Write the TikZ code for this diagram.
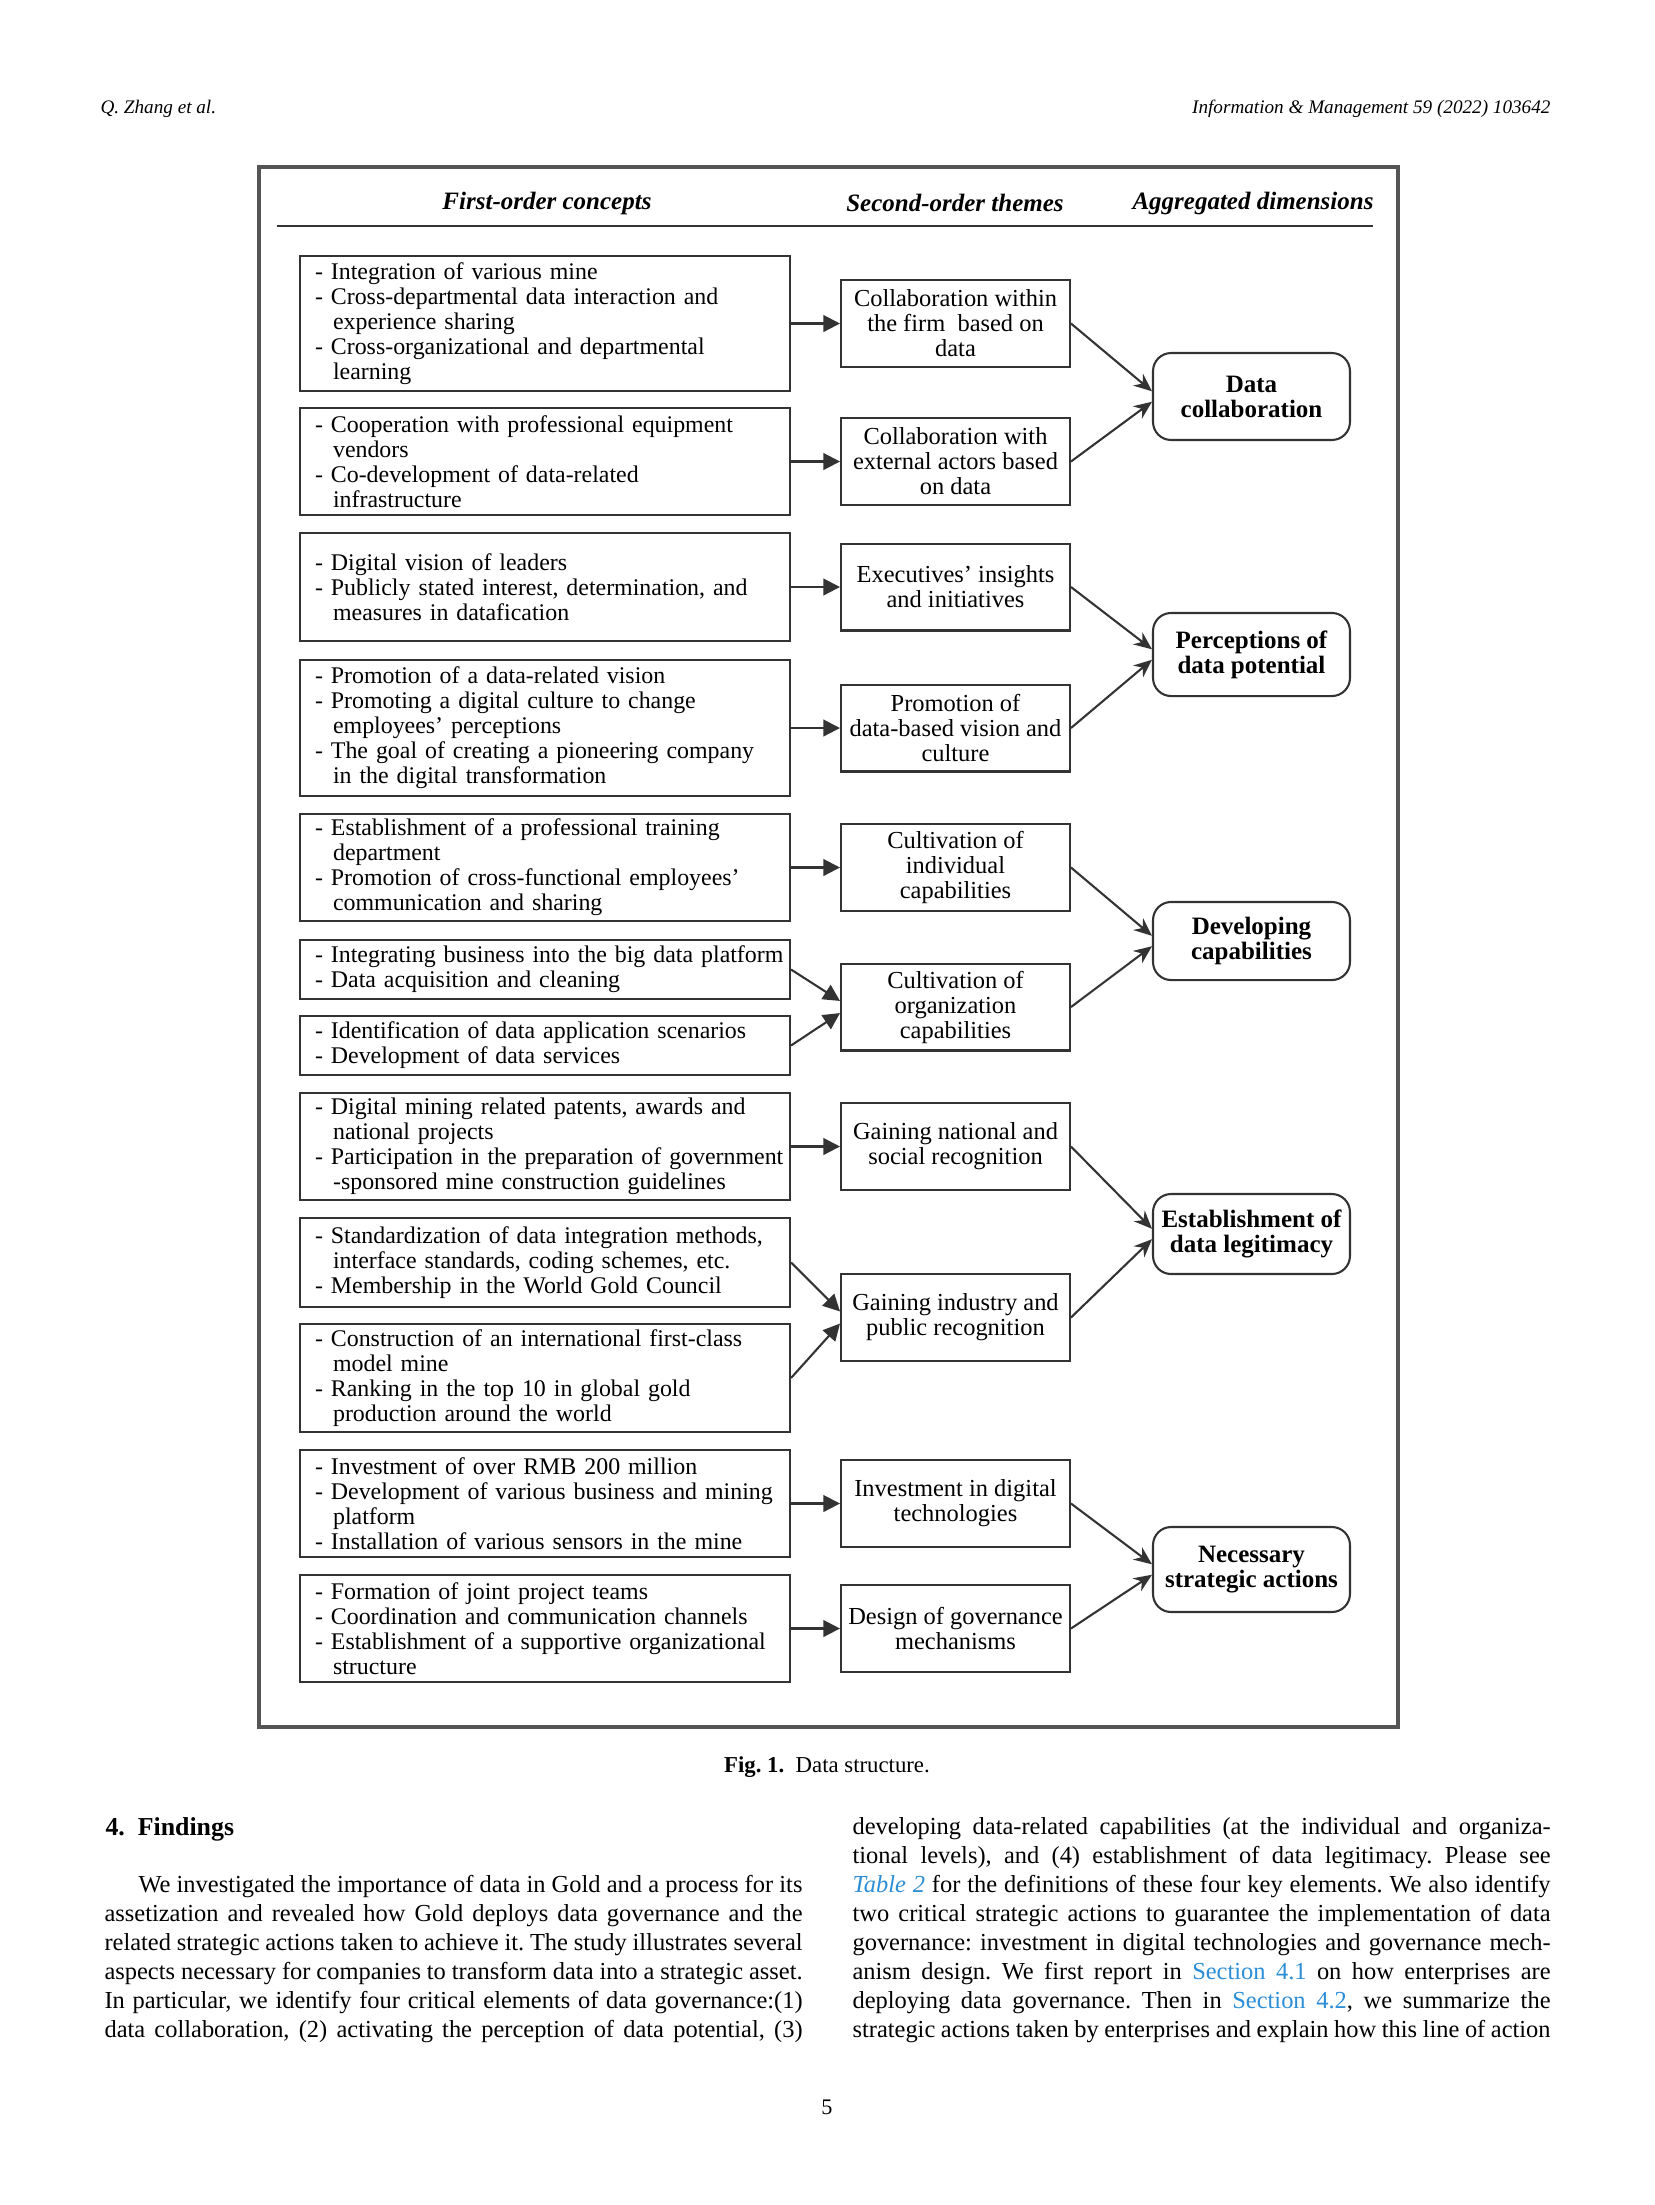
\documentclass[tikz,border=0pt]{standalone}
\usepackage{fontspec}
\setmainfont{Liberation Serif}
\usepackage{xcolor}
\definecolor{LineGray}{HTML}{333333}
\definecolor{FrameGray}{HTML}{555555}
\definecolor{LinkBlue}{HTML}{2C8ED6}
\usepackage{tikz}
\usetikzlibrary{arrows.meta}
\frenchspacing
\newcommand\itm[1]{\mbox{- #1}}
\newcommand\cnt[1]{\mbox{\hspace*{6.5pt}#1}}
\newcommand\jline[2][251.3pt]{\makebox[#1][s]{#2}}

\begin{document}
\begin{tikzpicture}[
  x=0.36pt, y=-0.36pt,
  concept/.style={draw=LineGray, line width=0.75pt, text width=165.6pt, inner xsep=5.4pt,
                  inner ysep=1pt, align=left, font=\fontsize{8.6}{9}\selectfont},
  theme/.style={draw=LineGray, line width=0.75pt, minimum width=82.4pt, minimum height=31.3pt,
                inner sep=1pt, align=center, font=\fontsize{8.8}{9}\selectfont},
  dim/.style={draw=LineGray, line width=0.75pt, rounded corners=6.5pt, minimum width=70.9pt,
              inner sep=1pt, align=center, font=\fontsize{9}{9}\selectfont\bfseries},
  hd/.style={font=\fontsize{9}{10}\selectfont\bfseries\itshape},
  feed/.style={draw=LineGray, line width=0.75pt, -{Triangle[length=6pt,width=6pt]}},
  merge/.style={draw=LineGray, line width=0.75pt, -{Stealth[length=6.5pt,width=5.5pt]}},
  body/.style={anchor=base west, inner sep=0pt, font=\fontsize{8.8}{10}\selectfont},
  runhead/.style={inner sep=0pt, font=\fontsize{6.9}{8}\selectfont\itshape},
]
\fill[white] (0,0) rectangle (1654,2205);
\useasboundingbox (0,0) rectangle (1654,2205);

\node[runhead, anchor=base west] (rhl) at (100,113) {Q. Zhang et al.};
\node[runhead, anchor=base east] (rhr) at (1551,113) {Information \& Management 59 (2022) 103642};

\draw[FrameGray, line width=1.1pt] (259,167) rectangle (1398,1727);
\node[hd] (h1) at (547,203) {First-order concepts};
\node[hd] (h2) at (955,203) {Second-order themes};
\node[hd] (h3) at (1253,203) {Aggregated dimensions};
\draw[LineGray, line width=1pt] (277,226) -- (1373,226);

\node[concept, minimum height=48.6pt] (c1) at (545,323.5) {\itm{Integration of various mine}\\
  \itm{Cross-departmental data interaction and}\\ \cnt{experience sharing}\\
  \itm{Cross-organizational and departmental}\\ \cnt{learning}};
\node[concept, minimum height=38.5pt] (c2) at (545,461.5) {\itm{Cooperation with professional equipment}\\
  \cnt{vendors}\\ \itm{Co-development of data-related}\\ \cnt{infrastructure}};
\node[concept, minimum height=38.9pt] (c3) at (545,587) {\itm{Digital vision of leaders}\\
  \itm{Publicly stated interest, determination, and}\\ \cnt{measures in datafication}};
\node[concept, minimum height=49pt] (c4) at (545,728) {\itm{Promotion of a data-related vision}\\
  \itm{Promoting a digital culture to change}\\ \cnt{employees' perceptions}\\
  \itm{The goal of creating a pioneering company}\\ \cnt{in the digital transformation}};
\node[concept, minimum height=38.5pt] (c5) at (545,867.5) {\itm{Establishment of a professional training}\\
  \cnt{department}\\ \itm{Promotion of cross-functional employees'}\\ \cnt{communication and sharing}};
\node[concept, minimum height=21.2pt] (c6) at (545,969.5) {\itm{Integrating business into the big data platform}\\
  \itm{Data acquisition and cleaning}};
\node[concept, minimum height=21.2pt] (c7) at (545,1045.5) {\itm{Identification of data application scenarios}\\
  \itm{Development of data services}};
\node[concept, minimum height=38.5pt] (c8) at (545,1146.5) {\itm{Digital mining related patents, awards and}\\
  \cnt{national projects}\\ \itm{Participation in the preparation of government}\\
  \cnt{-sponsored mine construction guidelines}};
\node[concept, minimum height=32pt] (c9) at (545,1262.5) {\itm{Standardization of data integration methods,}\\
  \cnt{interface standards, coding schemes, etc.}\\ \itm{Membership in the World Gold Council}};
\node[concept, minimum height=38.9pt] (c10) at (545,1378) {\itm{Construction of an international first-class}\\
  \cnt{model mine}\\ \itm{Ranking in the top 10 in global gold}\\ \cnt{production around the world}};
\node[concept, minimum height=38.5pt] (c11) at (545,1503.5) {\itm{Investment of over RMB 200 million}\\
  \itm{Development of various business and mining}\\ \cnt{platform}\\
  \itm{Installation of various sensors in the mine}};
\node[concept, minimum height=38.5pt] (c12) at (545,1628.5) {\itm{Formation of joint project teams}\\
  \itm{Coordination and communication channels}\\
  \itm{Establishment of a supportive organizational}\\ \cnt{structure}};

\node[theme] (t1) at (955.5,323.5) {Collaboration within\\the firm \ based on\\data};
\node[theme] (t2) at (955.5,461.5) {Collaboration with\\external actors based\\on data};
\node[theme] (t3) at (955.5,587) {Executives' insights\\and initiatives};
\node[theme] (t4) at (955.5,728) {Promotion of\\data-based vision and\\culture};
\node[theme] (t5) at (955.5,867.5) {Cultivation of\\individual\\capabilities};
\node[theme] (t6) at (955.5,1007) {Cultivation of\\organization\\capabilities};
\node[theme] (t7) at (955.5,1146.5) {Gaining national and\\social recognition};
\node[theme] (t8) at (955.5,1317.5) {Gaining industry and\\public recognition};
\node[theme] (t9) at (955.5,1503.5) {Investment in digital\\technologies};
\node[theme] (t10) at (955.5,1628.5) {Design of governance\\mechanisms};

\node[dim, minimum height=31.3pt] (d1) at (1251.5,396.5) {Data\\collaboration};
\node[dim, minimum height=29.9pt] (d2) at (1251.5,654.5) {Perceptions of\\data potential};
\node[dim, minimum height=28.1pt] (d3) at (1251.5,941) {Developing\\capabilities};
\node[dim, minimum height=28.8pt] (d4) at (1251.5,1234) {Establishment of\\data legitimacy};
\node[dim, minimum height=30.6pt] (d5) at (1251.5,1569.5) {Necessary\\strategic actions};

\foreach \a/\b in {c1/t1,c2/t2,c3/t3,c4/t4,c5/t5,c8/t7,c11/t9,c12/t10}
  \draw[feed] (\a) -- (\b);
\foreach \a/\b/\d in {c6/t6/177,c7/t6/183,c9/t8/177,c10/t8/183}
  \draw[feed] (\a.east) -- (\b.\d);
\foreach \a/\b/\d in {t1/d1/177,t2/d1/183,t3/d2/177,t4/d2/183,t5/d3/177,t6/d3/183,
                      t7/d4/177,t8/d4/183,t9/d5/177,t10/d5/183}
  \draw[merge] (\a.east) -- (\b.\d);

\node[inner sep=0pt, anchor=base, font=\fontsize{8.2}{10}\selectfont] (cap) at (827,1772)
  {\textbf{Fig. 1.}\enspace Data structure.};
\node[inner sep=0pt, anchor=base west, font=\fontsize{9.3}{11}\selectfont\bfseries] (sec) at (105,1835)
  {4.\enspace Findings};

\node[body] (l0) at (138,1892.5) {\jline[239pt]{We investigated the importance of data in Gold and a process for its}};
\foreach \t [count=\i] in {
  {assetization and revealed how Gold deploys data governance and the},
  {related strategic actions taken to achieve it. The study illustrates several},
  {aspects necessary for companies to transform data into a strategic asset.},
  {In particular, we identify four critical elements of data governance:(1)},
  {data collaboration, (2) activating the perception of data potential, (3)}}
  \node[body] (l\i) at (104,{1892.5+28.9*\i}) {\jline{\t}};

\foreach \t [count=\i from 0] in {
  {developing data-related capabilities (at the individual and organiza-},
  {tional levels), and (4) establishment of data legitimacy. Please see},
  {\textcolor{LinkBlue}{\textit{Table 2}} for the definitions of these four key elements. We also identify},
  {two critical strategic actions to guarantee the implementation of data},
  {governance: investment in digital technologies and governance mech-},
  {anism design. We first report in \textcolor{LinkBlue}{Section 4.1} on how enterprises are},
  {deploying data governance. Then in \textcolor{LinkBlue}{Section 4.2}, we summarize the},
  {strategic actions taken by enterprises and explain how this line of action}}
  \node[body] (r\i) at (852,{1834.8+28.9*\i}) {\jline{\t}};

\node[inner sep=0pt, anchor=base, font=\fontsize{8}{10}\selectfont] (pg) at (827,2114) {5};
\end{tikzpicture}
\end{document}
